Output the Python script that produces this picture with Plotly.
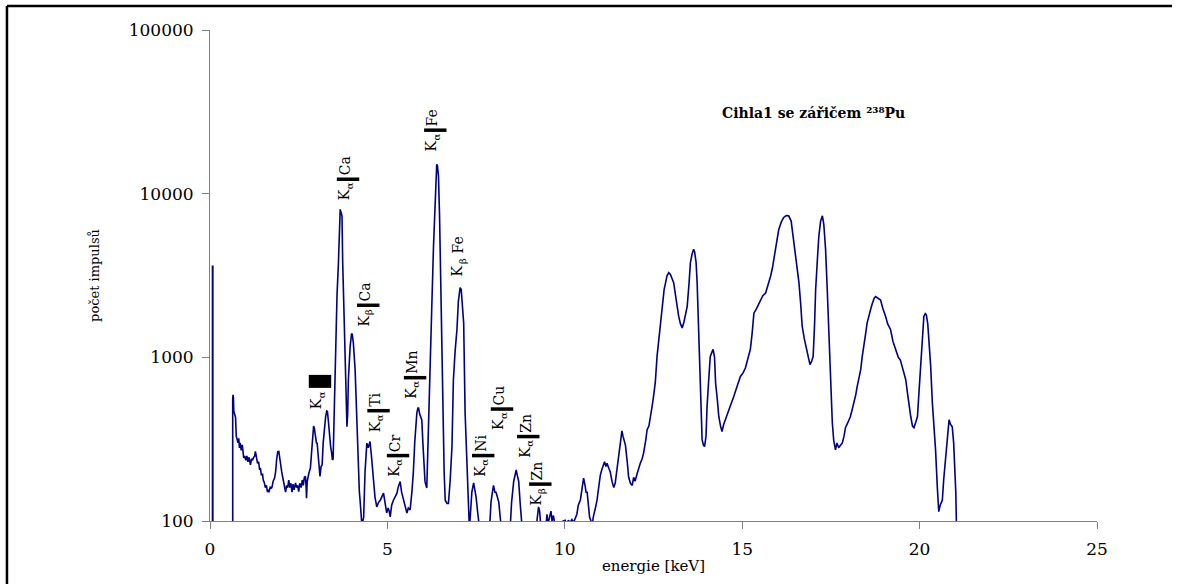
import numpy as np
import plotly.graph_objects as go

# ---- spectrum (energy in keV, counts); values < 100 lie below the axis ----
energy = [
    0.00, 0.07, 0.07, 0.08, 0.08, 0.64, 0.64, 0.65, 0.66, 0.67, 0.69, 0.72, 0.74, 0.77, 0.79, 0.81,
    0.83, 0.85, 0.88, 0.91, 0.93, 0.95, 0.98, 1.01, 1.04, 1.07, 1.10, 1.14, 1.17, 1.20, 1.23, 1.26,
    1.28, 1.31, 1.34, 1.37, 1.40, 1.42, 1.45, 1.48, 1.50, 1.53, 1.56, 1.59, 1.62, 1.64, 1.66, 1.70,
    1.73, 1.75, 1.78, 1.82, 1.85, 1.88, 1.91, 1.94, 1.97, 1.99, 2.02, 2.05, 2.08, 2.11, 2.13, 2.16,
    2.19, 2.22, 2.25, 2.28, 2.31, 2.34, 2.37, 2.41, 2.44, 2.47, 2.50, 2.53, 2.57, 2.60, 2.63, 2.66,
    2.69, 2.71, 2.72, 2.74, 2.77, 2.79, 2.83, 2.86, 2.89, 2.92, 2.94, 2.97, 3.00, 3.02, 3.05, 3.08,
    3.10, 3.13, 3.16, 3.19, 3.23, 3.26, 3.29, 3.31, 3.34, 3.37, 3.40, 3.43, 3.45, 3.47, 3.50, 3.54,
    3.58, 3.62, 3.65, 3.67, 3.70, 3.72, 3.74, 3.78, 3.82, 3.84, 3.86, 3.88, 3.90, 3.95, 3.99, 4.01,
    4.04, 4.09, 4.14, 4.18, 4.21, 4.23, 4.26, 4.28, 4.31, 4.33, 4.37, 4.42, 4.46, 4.51, 4.55, 4.61,
    4.65, 4.70, 4.75, 4.80, 4.84, 4.89, 4.92, 4.95, 4.98, 5.02, 5.05, 5.08, 5.12, 5.17, 5.22, 5.27,
    5.30, 5.33, 5.36, 5.40, 5.45, 5.50, 5.55, 5.59, 5.64, 5.69, 5.73, 5.77, 5.80, 5.83, 5.86, 5.88,
    5.91, 5.97, 6.00, 6.03, 6.06, 6.11, 6.15, 6.21, 6.25, 6.30, 6.34, 6.37, 6.39, 6.41, 6.44, 6.47,
    6.50, 6.54, 6.57, 6.60, 6.63, 6.68, 6.72, 6.77, 6.82, 6.86, 6.91, 6.96, 7.00, 7.05, 7.08, 7.12,
    7.15, 7.19, 7.24, 7.29, 7.31, 7.34, 7.38, 7.43, 7.46, 7.50, 7.55, 7.60, 7.88, 7.92, 7.96, 7.99,
    8.03, 8.06, 8.10, 8.14, 8.18, 8.21, 8.46, 8.50, 8.56, 8.60, 8.63, 8.66, 8.70, 8.74, 8.79, 9.19,
    9.23, 9.26, 9.29, 9.32, 9.47, 9.50, 9.52, 9.58, 9.61, 9.64, 9.68, 9.72, 9.98, 10.01, 10.06, 10.10,
    10.15, 10.20, 10.25, 10.30, 10.34, 10.38, 10.44, 10.49, 10.53, 10.57, 10.60, 10.63, 10.67, 10.70, 10.74, 10.78,
    10.80, 10.83, 10.87, 10.91, 10.95, 11.00, 11.04, 11.09, 11.12, 11.16, 11.19, 11.24, 11.28, 11.33, 11.38, 11.42,
    11.47, 11.52, 11.57, 11.61, 11.64, 11.68, 11.71, 11.76, 11.80, 11.85, 11.90, 11.94, 11.98, 12.04, 12.08, 12.13,
    12.18, 12.22, 12.28, 12.32, 12.37, 12.42, 12.46, 12.50, 12.55, 12.60, 12.65, 12.69, 12.75, 12.80, 12.84, 12.88,
    12.93, 12.98, 13.03, 13.07, 13.12, 13.17, 13.21, 13.26, 13.31, 13.36, 13.41, 13.45, 13.50, 13.54, 13.59, 13.63,
    13.66, 13.70, 13.73, 13.77, 13.80, 13.84, 13.87, 13.91, 13.94, 13.98, 14.01, 14.06, 14.10, 14.15, 14.18, 14.22,
    14.25, 14.30, 14.34, 14.39, 14.43, 14.48, 14.53, 14.58, 14.64, 14.70, 14.76, 14.82, 14.88, 14.95, 15.02, 15.09,
    15.16, 15.23, 15.28, 15.33, 15.40, 15.46, 15.51, 15.58, 15.66, 15.72, 15.80, 15.85, 15.89, 15.95, 16.03, 16.10,
    16.17, 16.24, 16.31, 16.38, 16.45, 16.52, 16.60, 16.65, 16.69, 16.75, 16.81, 16.86, 16.91, 16.96, 17.00, 17.04,
    17.07, 17.12, 17.16, 17.21, 17.26, 17.30, 17.35, 17.40, 17.44, 17.49, 17.54, 17.58, 17.63, 17.67, 17.72, 17.77,
    17.82, 17.87, 17.91, 17.98, 18.05, 18.10, 18.15, 18.20, 18.24, 18.29, 18.34, 18.38, 18.43, 18.48, 18.52, 18.58,
    18.63, 18.67, 18.72, 18.76, 18.82, 18.86, 18.90, 18.96, 19.00, 19.04, 19.10, 19.18, 19.25, 19.32, 19.40, 19.46,
    19.53, 19.61, 19.66, 19.71, 19.75, 19.80, 19.84, 19.89, 19.94, 19.98, 20.03, 20.08, 20.12, 20.16, 20.19, 20.23,
    20.26, 20.31, 20.36, 20.41, 20.45, 20.50, 20.54, 20.58, 20.64, 20.68, 20.73, 20.78, 20.83, 20.87, 20.92, 20.96,
    20.99, 21.02, 21.04,
]
counts = [
    90, 90, 3600, 3600, 90, 90, 560, 590, 570, 470, 450, 430, 330, 306, 300, 320,
    280, 300, 270, 292, 265, 243, 250, 235, 250, 230, 245, 220, 240, 235, 245, 250,
    266, 240, 225, 230, 205, 211, 190, 195, 178, 172, 160, 165, 150, 155, 150, 162,
    158, 162, 175, 183, 200, 240, 265, 266, 235, 226, 200, 185, 170, 160, 150, 165,
    160, 178, 160, 170, 150, 168, 155, 171, 160, 165, 151, 170, 160, 178, 165, 185,
    187, 160, 138, 175, 190, 197, 211, 260, 330, 380, 370, 330, 300, 299, 240, 200,
    187, 215, 220, 300, 400, 435, 470, 467, 400, 330, 285, 260, 236, 240, 450, 1170,
    2400, 3790, 6960, 8020, 7600, 7300, 3790, 1870, 900, 730, 377, 450, 730, 1167, 1396, 1380,
    1225, 841, 361, 178, 150, 134, 110, 95, 100, 105, 200, 299, 280, 306, 250, 178,
    140, 122, 130, 134, 140, 148, 135, 118, 112, 120, 115, 106, 125, 134, 140, 148,
    160, 170, 174, 150, 134, 120, 112, 120, 117, 150, 196, 300, 400, 458, 490, 490,
    450, 415, 300, 200, 174, 159, 300, 764, 2000, 4800, 9000, 14000, 15100, 14800, 12800, 7300,
    3000, 1000, 285, 196, 134, 128, 128, 178, 285, 730, 1100, 1480, 2200, 2670, 2600, 2000,
    1620, 458, 200, 100, 90, 110, 150, 171, 160, 140, 110, 90, 90, 130, 150, 165,
    150, 150, 140, 130, 105, 90, 90, 130, 175, 195, 205, 190, 175, 130, 95, 90,
    110, 122, 115, 95, 95, 110, 95, 110, 115, 100, 108, 95, 100, 101, 95, 101,
    98, 102, 98, 105, 110, 125, 135, 160, 183, 165, 150, 150, 120, 105, 100, 95,
    105, 115, 122, 135, 160, 190, 205, 220, 230, 215, 225, 210, 200, 175, 160, 170,
    205, 240, 290, 355, 330, 300, 290, 230, 185, 170, 165, 185, 175, 195, 210, 226,
    240, 260, 310, 361, 380, 430, 500, 575, 700, 1014, 1300, 1550, 2100, 2600, 2850, 3150,
    3290, 3200, 3000, 2850, 2400, 2000, 1780, 1600, 1510, 1650, 1900, 2050, 2800, 3790, 4300, 4570,
    4400, 3800, 2850, 1500, 697, 420, 313, 290, 285, 330, 502, 750, 1014, 1080, 1120, 1000,
    697, 550, 435, 380, 352, 390, 420, 456, 490, 530, 575, 640, 690, 764, 800, 860,
    1000, 1120, 1400, 1860, 1980, 2100, 2240, 2380, 2470, 2700, 3130, 3500, 3980, 4900, 6040, 6700,
    7160, 7350, 7320, 6800, 5250, 4000, 2850, 2100, 1550, 1300, 1120, 1000, 902, 950, 1014, 1600,
    2590, 4000, 5500, 6800, 7320, 6500, 4570, 2500, 1410, 750, 397, 310, 272, 300, 280, 290,
    299, 330, 372, 400, 435, 480, 525, 590, 663, 750, 841, 1000, 1230, 1400, 1620, 1850,
    2000, 2140, 2300, 2350, 2300, 2250, 2240, 2000, 1900, 1780, 1600, 1480, 1250, 1120, 1000, 960,
    850, 730, 600, 480, 435, 380, 372, 400, 435, 600, 880, 1300, 1780, 1850, 1820, 1600,
    1340, 900, 525, 380, 272, 160, 114, 125, 134, 180, 248, 330, 415, 390, 377, 300,
    215, 150, 90,
]

# ---- peak labels ----
label_energy = [3.89, 6.35, 7.07, 4.46, 3.10, 4.75, 5.30, 5.78, 7.70, 8.23, 8.97, 9.31]
label_counts = [12250, 24430, 4180, 2080, 713, 472, 251, 751, 251, 483, 328, 168]
label_line = ["α", "α", "β", "β", "α", "α", "α", "α", "α", "α", "α", "β"]
label_element = ["Ca", "Fe", "Fe", "Ca", "", "Ti", "Cr", "Mn", "Ni", "Cu", "Zn", "Zn"]
label_marker = ["bar", "bar", "none", "bar", "block", "bar", "bar", "bar", "bar", "bar", "bar", "bar"]

x_ticks = [0, 5, 10, 15, 20, 25]
y_ticks = [100, 1000, 10000, 100000]
y_ticktext = ["100", "1000", "10000", "100000"]

title_text = "<b>Cihla1 se zářičem ²³⁸Pu</b>"
x_title = "energie [keV]"
y_title = "počet impulsů"

FONT = "DejaVu Serif"
NAVY = "#000080"
GREY = "#808080"

fig = go.Figure()
fig.add_trace(go.Scatter(x=energy, y=counts, mode="lines",
                         line=dict(color=NAVY, width=1.6), hoverinfo="skip",
                         showlegend=False))

bar_x = [e for e, m in zip(label_energy, label_marker) if m == "bar"]
bar_y = [c for c, m in zip(label_counts, label_marker) if m == "bar"]
fig.add_trace(go.Scatter(x=bar_x, y=bar_y, mode="markers", showlegend=False,
                         hoverinfo="skip",
                         marker=dict(symbol="line-ew", size=16,
                                     line=dict(width=3.5, color="black"))))
blk_x = [e for e, m in zip(label_energy, label_marker) if m == "block"]
blk_y = [c for c, m in zip(label_counts, label_marker) if m == "block"]
fig.add_trace(go.Scatter(x=blk_x, y=blk_y, mode="markers", showlegend=False,
                         hoverinfo="skip",
                         marker=dict(symbol="line-ew", size=16,
                                     line=dict(width=13, color="black"))))

annotations = []
for e, c, ln, el, mk in zip(label_energy, label_counts, label_line, label_element, label_marker):
    gap = 7.5 if mk == "block" else (1.5 if mk == "bar" else 0.5)
    ylog = np.log10(c)
    # Greek index (subscript look) just below the bar, "K" below it
    annotations.append(dict(x=e, y=ylog, xref="x", yref="y", text=ln, showarrow=False,
                            textangle=-90, xanchor="center", yanchor="top",
                            xshift=1, yshift=-gap,
                            font=dict(family=FONT, size=10, color="black")))
    annotations.append(dict(x=e, y=ylog, xref="x", yref="y", text="K", showarrow=False,
                            textangle=-90, xanchor="center", yanchor="top",
                            xshift=-4, yshift=-(gap + 7),
                            font=dict(family=FONT, size=14, color="black")))
    if el:
        annotations.append(dict(x=e, y=ylog, xref="x", yref="y", text=el, showarrow=False,
                                textangle=-90, xanchor="center", yanchor="bottom",
                                xshift=-3, yshift=gap,
                                font=dict(family=FONT, size=14, color="black")))

annotations.append(dict(x=0.68, y=0.831, xref="paper", yref="paper", text=title_text,
                        showarrow=False, xanchor="center", yanchor="middle",
                        font=dict(family=FONT, size=14, color="black")))

fig.update_layout(
    width=1177, height=584,
    margin=dict(l=210, r=80, t=30, b=63, autoexpand=False),
    paper_bgcolor="white", plot_bgcolor="white",
    font=dict(family=FONT, color="black"),
    annotations=annotations,
    shapes=[
        dict(type="line", xref="paper", yref="paper", x0=-0.2289, x1=1.0846, y0=1.0489, y1=1.0489,
             line=dict(color="black", width=2.5)),
        dict(type="line", xref="paper", yref="paper", x0=-0.2289, x1=-0.2289, y0=1.0489, y1=-0.3,
             line=dict(color="black", width=2.5)),
    ],
)
fig.update_xaxes(range=[0, 25], tickvals=x_ticks, showgrid=False, zeroline=False,
                 showline=True, linecolor=GREY, linewidth=1,
                 ticks="outside", ticklen=7, tickcolor=GREY, ticklabelstandoff=6,
                 tickfont=dict(family=FONT, size=17, color="black"),
                 title=dict(text=x_title, standoff=2, font=dict(family=FONT, size=15, color="black")))
fig.update_yaxes(type="log", range=[2, 5], tickvals=y_ticks, ticktext=y_ticktext,
                 showgrid=False, zeroline=False, showline=True, linecolor=GREY, linewidth=1,
                 ticks="outside", ticklen=7, tickcolor=GREY, ticklabelstandoff=5,
                 tickfont=dict(family=FONT, size=17, color="black"),
                 title=dict(text=y_title, standoff=26, font=dict(family=FONT, size=13, color="black")))

fig.write_html("out.html", config={"displayModeBar": False},
               post_script="document.body.style.margin='0';")
